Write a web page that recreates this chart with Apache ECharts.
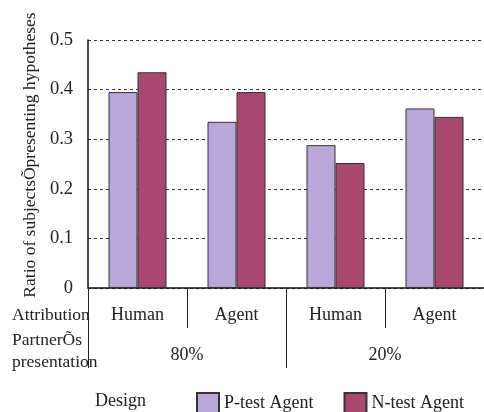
<!DOCTYPE html>
<html><head><meta charset="utf-8">
<script src="https://cdn.jsdelivr.net/npm/echarts@6/dist/echarts.min.js"></script>
<style>html,body{margin:0;padding:0;background:#fff}#c{width:484px;height:412px}</style>
</head><body><div id="c"></div>
<script>
const attribution = ['Human', 'Agent', 'Human', 'Agent'];
const presentation = ['80%', '20%'];
const pTestAgent = [0.395, 0.335, 0.288, 0.362];
const nTestAgent = [0.435, 0.395, 0.252, 0.345];
const yTicks = { min: 0, max: 0.5, interval: 0.1 };

const FONT = 'Liberation Serif';
const chart = echarts.init(document.getElementById('c'));
chart.setOption({
  animation: false,
  textStyle: { fontFamily: FONT },
  grid: { left: 88, top: 40, bottom: 124, width: 402, containLabel: false },
  legend: {
    left: 196, top: 392, itemWidth: 22, itemHeight: 20, itemGap: 30, padding: 0,
    icon: 'rect',
    textStyle: { fontFamily: FONT, fontSize: 18, color: '#222' },
    data: ['P-test Agent', 'N-test Agent']
  },
  xAxis: [
    {
      type: 'category', data: attribution, position: 'bottom',
      axisLine: { show: true, lineStyle: { color: '#111', width: 1.5 } },
      axisTick: { show: true, length: 40, lineStyle: { color: '#222', width: 1 } },
      axisLabel: { fontFamily: FONT, fontSize: 18, color: '#222', margin: 18 }
    },
    {
      type: 'category', data: presentation, position: 'bottom',
      axisLine: { show: false },
      axisTick: { show: true, length: 80, lineStyle: { color: '#222', width: 1 } },
      axisLabel: { fontFamily: FONT, fontSize: 18, color: '#222', margin: 58 }
    }
  ],
  yAxis: {
    type: 'value', min: yTicks.min, max: yTicks.max, interval: yTicks.interval,
    name: 'Ratio of subjectsÕpresenting hypotheses',
    nameLocation: 'middle', nameGap: 48, nameRotate: 90,
    nameTextStyle: { fontFamily: FONT, fontSize: 17.5, color: '#222', padding: [0, 0, 0, 18] },
    axisLine: { show: true, lineStyle: { color: '#111', width: 1.5 } },
    axisTick: { show: false },
    axisLabel: { fontFamily: FONT, fontSize: 18.5, color: '#222', margin: 15 },
    splitLine: { show: true, lineStyle: { color: '#333', type: [3, 3], width: 1 } }
  },
  series: [
    {
      name: 'P-test Agent', type: 'bar', data: pTestAgent, xAxisIndex: 0,
      barWidth: 29, barGap: '0%',
      itemStyle: { color: '#b8a8d9', borderColor: '#333', borderWidth: 1 }
    },
    {
      name: 'N-test Agent', type: 'bar', data: nTestAgent, xAxisIndex: 0,
      barWidth: 29, barGap: '0%',
      itemStyle: { color: '#a9476f', borderColor: '#333', borderWidth: 1 }
    }
  ],
  graphic: [
    { type: 'text', left: 12, top: 306, style: { text: 'Attribution', font: '17.5px "Liberation Serif"', fill: '#222' } },
    { type: 'text', left: 12, top: 329, style: { text: 'PartnerÕs\npresentation', font: '17.5px "Liberation Serif"', fill: '#222', lineHeight: 22 } },
    { type: 'text', left: 95, top: 392, style: { text: 'Design', font: '18px "Liberation Serif"', fill: '#222' } }
  ]
});
</script>
</body></html>
